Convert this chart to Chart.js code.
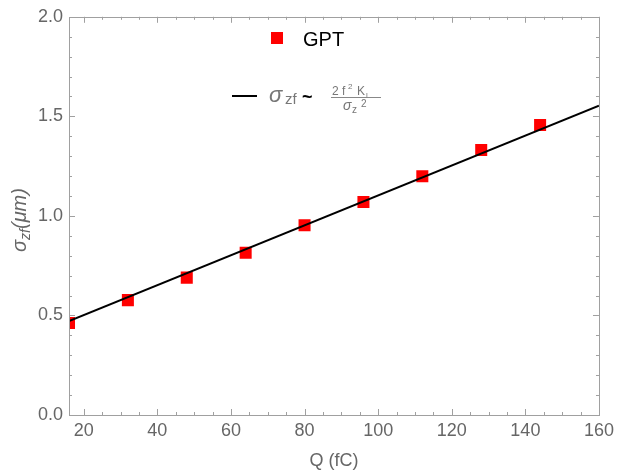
<!DOCTYPE html>
<html><head><meta charset="utf-8">
<script src="https://cdn.jsdelivr.net/npm/chart.js@4/dist/chart.umd.min.js"></script>
<style>html,body{margin:0;padding:0;background:#fff}#wrap{width:619px;height:474px;position:relative}</style>
</head><body><div id="wrap"><canvas id="c" width="619" height="474"></canvas></div>
<script>
// ---- data ----
const qValues = [16, 32, 48, 64, 80, 96, 112, 128, 144];
const gptSigma = [0.462, 0.577, 0.690, 0.815, 0.953, 1.070, 1.199, 1.331, 1.456];
const fitQ = [16, 160];
const fitSigma = [0.472, 1.554];
const xTickValues = [20, 40, 60, 80, 100, 120, 140, 160];
const yTickValues = [0.0, 0.5, 1.0, 1.5, 2.0];
const seriesLabel = 'GPT';
const xTitle = 'Q (fC)';

const FONT = '"Liberation Sans", Arial, Helvetica, sans-serif';
const GRAY = '#666666';
const FRAME = '#a0a0a0';

const framePlugin = {
  id: 'frameTicks',
  afterDraw(chart) {
    const ctx = chart.ctx, a = chart.chartArea;
    const xs = chart.scales.x, ys = chart.scales.y;
    ctx.save();
    ctx.strokeStyle = FRAME;
    ctx.lineWidth = 1;
    ctx.strokeRect(Math.round(a.left) + 0.5, Math.round(a.top) + 0.5,
                   Math.round(a.right - a.left), Math.round(a.bottom - a.top));
    ctx.beginPath();
    // x ticks (major every 20, minor every 5)
    for (let v = 20; v <= 160; v += 5) {
      const major = v % 20 === 0;
      const len = major ? 6 : 3;
      const px = Math.round(xs.getPixelForValue(v)) + 0.5;
      ctx.moveTo(px, a.bottom); ctx.lineTo(px, a.bottom - len);
      ctx.moveTo(px, a.top); ctx.lineTo(px, a.top + len);
    }
    // y ticks (major every 0.5, minor every 0.1)
    for (let i = 0; i <= 20; i++) {
      const v = i / 10;
      const major = i % 5 === 0;
      const len = major ? 6 : 3;
      const py = Math.round(ys.getPixelForValue(v)) + 0.5;
      ctx.moveTo(a.left, py); ctx.lineTo(a.left + len, py);
      ctx.moveTo(a.right, py); ctx.lineTo(a.right - len, py);
    }
    ctx.stroke();

    // y-axis title: sigma_zf (μm)
    ctx.save();
    ctx.translate(26, 220);
    ctx.rotate(-Math.PI / 2);
    ctx.fillStyle = GRAY;
    ctx.textBaseline = 'alphabetic';
    const big = 'italic 20px ' + FONT, small = 'italic 14px ' + FONT;
    const parts = [['σ', big, 0], ['zf', small, 4], ['(μm)', big, 0]];
    let total = 0;
    parts.forEach(p => { ctx.font = p[1]; total += ctx.measureText(p[0]).width; });
    let x = -total / 2;
    parts.forEach(p => { ctx.font = p[1]; ctx.fillText(p[0], x, p[2]); x += ctx.measureText(p[0]).width; });
    ctx.restore();

    // legend
    ctx.fillStyle = '#ff0000';
    ctx.fillRect(271, 32, 12, 12);
    ctx.fillStyle = '#000';
    ctx.font = '20px ' + FONT;
    ctx.textBaseline = 'alphabetic';
    ctx.fillText(seriesLabel, 303, 46);

    ctx.strokeStyle = '#000';
    ctx.lineWidth = 2;
    ctx.beginPath(); ctx.moveTo(232, 96); ctx.lineTo(257, 96); ctx.stroke();

    ctx.fillStyle = '#777';
    ctx.font = 'italic 22px ' + FONT;
    ctx.fillText('σ', 269, 102);
    ctx.font = '15px ' + FONT;
    ctx.fillText('zf', 285, 104);
    ctx.fillStyle = '#000';
    ctx.font = 'bold 18px ' + FONT;
    ctx.fillText('~', 302, 103);
    ctx.fillStyle = '#777';
    ctx.font = '12px ' + FONT;
    ctx.fillText('2 f', 332, 95);
    ctx.font = '8px ' + FONT;
    ctx.fillText('2', 348, 89);
    ctx.font = '12px ' + FONT;
    ctx.fillText('K', 357, 95);
    ctx.font = '8px ' + FONT;
    ctx.fillText('l', 366, 98);
    ctx.strokeStyle = '#888';
    ctx.lineWidth = 1;
    ctx.beginPath(); ctx.moveTo(331, 97.5); ctx.lineTo(381, 97.5); ctx.stroke();
    ctx.font = 'italic 14px ' + FONT;
    ctx.fillText('σ', 343, 110);
    ctx.font = '10px ' + FONT;
    ctx.fillText('z', 352, 113);
    ctx.font = '10px ' + FONT;
    ctx.fillText('2', 361, 107);
    ctx.restore();
  }
};

new Chart(document.getElementById('c'), {
  data: {
    datasets: [
      {
        type: 'line', label: 'fit', order: 0,
        data: fitQ.map((q, i) => ({ x: q, y: fitSigma[i] })),
        borderColor: '#000', borderWidth: 2, pointRadius: 0, fill: false, tension: 0, clip: 0
      },
      {
        type: 'scatter', label: seriesLabel, order: 1,
        data: qValues.map((q, i) => ({ x: q, y: gptSigma[i] })),
        backgroundColor: '#ff0000', borderWidth: 0, pointStyle: 'rect', pointRadius: 8.5, clip: 0
      }
    ]
  },
  options: {
    responsive: false, animation: false, devicePixelRatio: 1,
    layout: { padding: { left: 0, top: 16, right: 19, bottom: 0 } },
    plugins: { legend: { display: false }, tooltip: { enabled: false } },
    scales: {
      x: {
        type: 'linear', min: 16, max: 160,
        afterBuildTicks: s => { s.ticks = xTickValues.map(v => ({ value: v })); },
        afterFit: s => { s.height = 59; },
        grid: { display: false, drawTicks: false }, border: { display: false },
        ticks: { color: GRAY, font: { size: 18, family: FONT }, padding: 5, maxRotation: 0, autoSkip: false },
        title: { display: true, text: xTitle, color: GRAY, font: { size: 18, family: FONT }, padding: { top: 0, bottom: 2 } }
      },
      y: {
        type: 'linear', min: 0, max: 2,
        afterBuildTicks: s => { s.ticks = yTickValues.map(v => ({ value: v })); },
        afterFit: s => { s.width = 69; },
        grid: { display: false, drawTicks: false }, border: { display: false },
        ticks: { color: GRAY, font: { size: 18, family: FONT }, padding: 6, callback: v => Number(v).toFixed(1) }
      }
    }
  },
  plugins: [framePlugin]
});
</script>
</body></html>
